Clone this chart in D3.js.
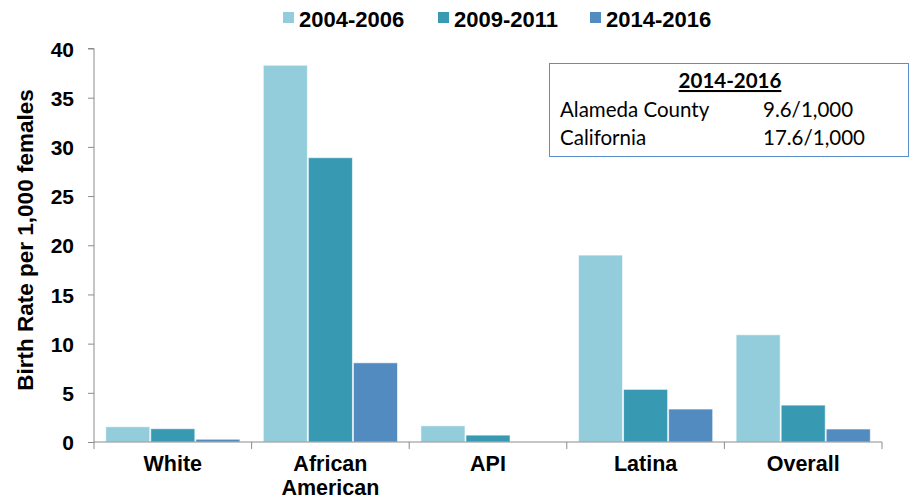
<!DOCTYPE html>
<html><head><meta charset="utf-8">
<script src="https://cdn.jsdelivr.net/npm/d3@7/dist/d3.min.js"></script>
<style>body{margin:0;background:#fff}svg{display:block}</style>
</head><body><svg id="c" width="914" height="499"></svg>
<script>
const categories = ["White", "African American", "API", "Latina", "Overall"];
const seriesNames = ["2004-2006", "2009-2011", "2014-2016"];
const s2004 = [1.55, 38.3, 1.65, 19.0, 10.9];
const s2009 = [1.35, 28.9, 0.7, 5.35, 3.75];
const s2014 = [0.28, 8.05, 0, 3.35, 1.32];
const yTicks = [0, 5, 10, 15, 20, 25, 30, 35, 40];
const colors = ["#93CDDC", "#3899B3", "#528BBF"];
const boxTitle = "2014-2016";
const boxRows = [["Alameda County", "9.6/1,000"], ["California", "17.6/1,000"]];

const FONT = "'Liberation Sans', Arial, sans-serif";
const series = [s2004, s2009, s2014];
const svg = d3.select("#c");
const m = {l: 94, r: 882, t: 48.5, b: 442};
const x = d3.scaleBand().domain(categories).range([m.l, m.r]).paddingInner(0).paddingOuter(0);
const x1 = d3.scaleBand().domain(seriesNames).range([0, x.bandwidth()]).paddingOuter(0.26).paddingInner(0.022);
const y = d3.scaleLinear().domain([0, 40]).range([m.b, m.t]);

// bars
const g = svg.append("g");
categories.forEach((c, i) => {
  series.forEach((s, j) => {
    if (s[i] <= 0) return;
    g.append("rect")
      .attr("x", x(c) + x1(seriesNames[j]))
      .attr("y", y(s[i]))
      .attr("width", x1.bandwidth())
      .attr("height", y(0) - y(s[i]))
      .attr("fill", colors[j])
      .attr("stroke", "#fff").attr("stroke-opacity", 0.6).attr("stroke-width", 1);
  });
});

// y axis
const ya = svg.append("g").attr("transform", `translate(${m.l},0)`)
  .call(d3.axisLeft(y).tickValues(yTicks).tickSize(6).tickPadding(14).tickFormat(d3.format("d")));
ya.select(".domain").attr("stroke", "#8c8c8c").attr("d", `M-6,${m.t}H0V${m.b}`);
ya.selectAll(".tick line").attr("stroke", "#8c8c8c");
ya.selectAll("text").attr("font-family", FONT)
  .attr("font-weight", "bold").attr("font-size", 21).attr("fill", "#000").attr("dy", "0.36em");

// x axis
const xa = svg.append("g").attr("transform", `translate(0,${m.b})`);
xa.append("line").attr("x1", m.l).attr("x2", m.r).attr("stroke", "#8c8c8c");
const bounds = categories.map(c => x(c)).concat([x(categories[categories.length-1]) + x.bandwidth()]);
xa.selectAll(".tk").data(bounds).enter().append("line")
  .attr("x1", d => d).attr("x2", d => d).attr("y1", 0).attr("y2", 7).attr("stroke", "#8c8c8c");
categories.forEach(c => {
  const words = c === "African American" ? ["African", "American"] : [c];
  const t = xa.append("text").attr("x", x(c) + x.bandwidth()/2).attr("y", 29)
    .attr("text-anchor", "middle").attr("font-family", FONT)
    .attr("font-weight", "bold").attr("font-size", 21.5).attr("fill", "#000");
  words.forEach((w, k) => t.append("tspan").attr("x", x(c) + x.bandwidth()/2).attr("dy", k ? 24 : 0).text(w));
});

// y label
svg.append("text").attr("transform", "translate(33,240) rotate(-90)")
  .attr("text-anchor", "middle").attr("font-family", FONT)
  .attr("font-weight", "bold").attr("font-size", 22.5).text("Birth Rate per 1,000 females");

// legend
const legX = [283, 438, 590];
seriesNames.forEach((n, j) => {
  svg.append("rect").attr("x", legX[j]).attr("y", 12).attr("width", 11).attr("height", 11).attr("fill", colors[j]);
  svg.append("text").attr("x", legX[j] + 16).attr("y", 27)
    .attr("font-family", FONT).attr("font-weight", "bold")
    .attr("font-size", 22).text(n);
});

// info box
svg.append("rect").attr("x", 549.5).attr("y", 63.5).attr("width", 359).attr("height", 93)
  .attr("fill", "#fff").attr("stroke", "#5B8FCB").attr("stroke-width", 1);
svg.append("text").attr("x", 730).attr("y", 88).attr("text-anchor", "middle")
  .attr("font-family", "Lato, 'Open Sans', sans-serif").attr("font-weight", "bold")
  .attr("font-size", 20.5).attr("text-decoration", "underline").text(boxTitle);
boxRows.forEach((r, k) => {
  svg.append("text").attr("x", 560).attr("y", 117 + k*28).attr("font-family", "Lato, 'Open Sans', sans-serif")
    .attr("font-size", 20.5).text(r[0]);
  svg.append("text").attr("x", 763).attr("y", 117 + k*28).attr("font-family", "Lato, 'Open Sans', sans-serif")
    .attr("font-size", 20.5).text(r[1]);
});
</script></body></html>
